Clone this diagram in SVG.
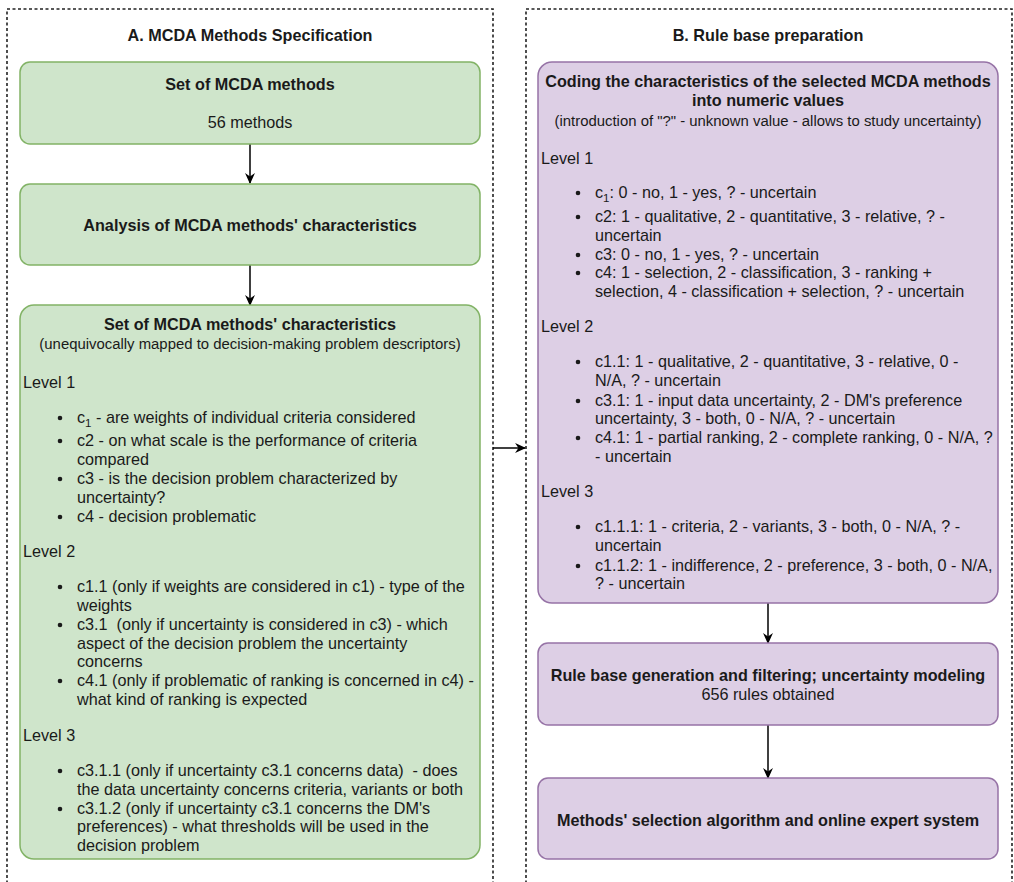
<svg xmlns="http://www.w3.org/2000/svg" width="1014" height="882" viewBox="0 0 1014 882">
<defs>
<style>
text{font-family:"Liberation Sans",Arial,sans-serif;font-size:16.2px;fill:#1a1a1a}
.b{font-weight:bold}
.c{text-anchor:middle}
.s{font-size:14.9px}
.sub{font-size:11.5px}
.cont{fill:none;stroke:#222;stroke-width:1.6;stroke-dasharray:3 2.5}
.g{fill:#cfe5cb;stroke:#82b366;stroke-width:1.5}
.p{fill:#ddcfe5;stroke:#9673a6;stroke-width:1.5}
.conn{stroke:#000;stroke-width:1.5;fill:none;marker-end:url(#ah)}
.dot{fill:#1a1a1a}
</style>
<marker id="ah" viewBox="0 0 10 10" refX="9" refY="5" markerWidth="11" markerHeight="11" markerUnits="userSpaceOnUse" orient="auto"><path d="M0,0.5 L10,5 L0,9.5 L3,5 Z" fill="#000"/></marker>
</defs>
<rect width="1014" height="882" fill="#fff"/>
<g id="containerA">
<rect class="cont" x="7" y="9" width="486" height="900"/>
<text class="b c" x="250" y="41">A. MCDA Methods Specification</text>
</g>
<g id="containerB">
<rect class="cont" x="526" y="9" width="486" height="900"/>
<text class="b c" x="768" y="41">B. Rule base preparation</text>
</g>
<g id="connectors">
<line class="conn" x1="250" y1="144" x2="250" y2="183"/>
<line class="conn" x1="250" y1="265" x2="250" y2="305"/>
<line class="conn" x1="493" y1="448" x2="525" y2="448"/>
<line class="conn" x1="768" y1="603" x2="768" y2="643"/>
<line class="conn" x1="768" y1="725" x2="768" y2="778"/>
</g>
<g id="setMethods">
<rect class="g" x="20" y="62" width="460" height="82" rx="10"/>
<text class="b c" x="250" y="90">Set of MCDA methods</text>
<text class="c" x="250" y="128">56 methods</text>
</g>
<g id="analysis">
<rect class="g" x="20" y="184" width="460" height="81" rx="10"/>
<text class="b c" x="250" y="230.5">Analysis of MCDA methods' characteristics</text>
</g>
<g id="characteristics">
<rect class="g" x="20" y="305" width="460" height="554" rx="14"/>
<text class="b c" x="250" y="330">Set of MCDA methods' characteristics</text>
<text class="c s" x="250" y="349">(unequivocally mapped to decision-making problem descriptors)</text>
<text x="23" y="388">Level 1</text>
<circle class="dot" cx="60" cy="418" r="2.3"/>
<text x="77" y="423">c<tspan class="sub" dy="4">1</tspan><tspan dy="-4"> - are weights of individual criteria considered</tspan></text>
<circle class="dot" cx="60" cy="441" r="2.3"/>
<text x="77" y="445.5">c2 - on what scale is the performance of criteria</text>
<text x="77" y="464.5">compared</text>
<circle class="dot" cx="60" cy="479" r="2.3"/>
<text x="77" y="484">c3 - is the decision problem characterized by</text>
<text x="77" y="503">uncertainty?</text>
<circle class="dot" cx="60" cy="517" r="2.3"/>
<text x="77" y="521.5">c4 - decision problematic</text>
<text x="23" y="556.5">Level 2</text>
<circle class="dot" cx="60" cy="587" r="2.3"/>
<text x="77" y="592">c1.1 (only if weights are considered in c1) - type of the</text>
<text x="77" y="610.5">weights</text>
<circle class="dot" cx="60" cy="625" r="2.3"/>
<text x="77" y="629.5" xml:space="preserve">c3.1  (only if uncertainty is considered in c3) - which</text>
<text x="77" y="648.5">aspect of the decision problem the uncertainty</text>
<text x="77" y="667">concerns</text>
<circle class="dot" cx="60" cy="681" r="2.3"/>
<text x="77" y="686">c4.1 (only if problematic of ranking is concerned in c4) -</text>
<text x="77" y="705">what kind of ranking is expected</text>
<text x="23" y="740.5">Level 3</text>
<circle class="dot" cx="60" cy="771" r="2.3"/>
<text x="77" y="775.5" xml:space="preserve">c3.1.1 (only if uncertainty c3.1 concerns data)  - does</text>
<text x="77" y="794.5">the data uncertainty concerns criteria, variants or both</text>
<circle class="dot" cx="60" cy="809" r="2.3"/>
<text x="77" y="814">c3.1.2 (only if uncertainty c3.1 concerns the DM's</text>
<text x="77" y="832">preferences) - what thresholds will be used in the</text>
<text x="77" y="851">decision problem</text>
</g>
<g id="coding">
<rect class="p" x="538" y="62" width="460" height="541" rx="14"/>
<text class="b c" x="768" y="87">Coding the characteristics of the selected MCDA methods</text>
<text class="b c" x="768" y="106">into numeric values</text>
<text class="c s" x="768" y="125.5">(introduction of "?" - unknown value - allows to study uncertainty)</text>
<text x="541" y="164">Level 1</text>
<circle class="dot" cx="578" cy="193" r="2.3"/>
<text x="595" y="198">c<tspan class="sub" dy="4">1</tspan><tspan dy="-4">: 0 - no, 1 - yes, ? - uncertain</tspan></text>
<circle class="dot" cx="578" cy="217" r="2.3"/>
<text x="595" y="221.5">c2: 1 - qualitative, 2 - quantitative, 3 - relative, ? -</text>
<text x="595" y="240.5">uncertain</text>
<circle class="dot" cx="578" cy="255" r="2.3"/>
<text x="595" y="259.5">c3: 0 - no, 1 - yes, ? - uncertain</text>
<circle class="dot" cx="578" cy="273" r="2.3"/>
<text x="595" y="278">c4: 1 - selection, 2 - classification, 3 - ranking +</text>
<text x="595" y="297">selection, 4 - classification + selection, ? - uncertain</text>
<text x="541" y="332">Level 2</text>
<circle class="dot" cx="578" cy="362" r="2.3"/>
<text x="595" y="367">c1.1: 1 - qualitative, 2 - quantitative, 3 - relative, 0 -</text>
<text x="595" y="386">N/A, ? - uncertain</text>
<circle class="dot" cx="578" cy="401" r="2.3"/>
<text x="595" y="405.5">c3.1: 1 - input data uncertainty, 2 - DM's preference</text>
<text x="595" y="424">uncertainty, 3 - both, 0 - N/A, ? - uncertain</text>
<circle class="dot" cx="578" cy="438" r="2.3"/>
<text x="595" y="443">c4.1: 1 - partial ranking, 2 - complete ranking, 0 - N/A, ?</text>
<text x="595" y="461.5">- uncertain</text>
<text x="541" y="497">Level 3</text>
<circle class="dot" cx="578" cy="527" r="2.3"/>
<text x="595" y="532">c1.1.1: 1 - criteria, 2 - variants, 3 - both, 0 - N/A, ? -</text>
<text x="595" y="551">uncertain</text>
<circle class="dot" cx="578" cy="566" r="2.3"/>
<text x="595" y="570.5">c1.1.2: 1 - indifference, 2 - preference, 3 - both, 0 - N/A,</text>
<text x="595" y="589">? - uncertain</text>
</g>
<g id="ruleBase">
<rect class="p" x="538" y="643" width="460" height="82" rx="10"/>
<text class="b c" x="768" y="681">Rule base generation and filtering; uncertainty modeling</text>
<text class="c" x="768" y="700">656 rules obtained</text>
</g>
<g id="expertSystem">
<rect class="p" x="538" y="778" width="460" height="81" rx="10"/>
<text class="b c" x="768" y="825.5">Methods' selection algorithm and online expert system</text>
</g>
</svg>
